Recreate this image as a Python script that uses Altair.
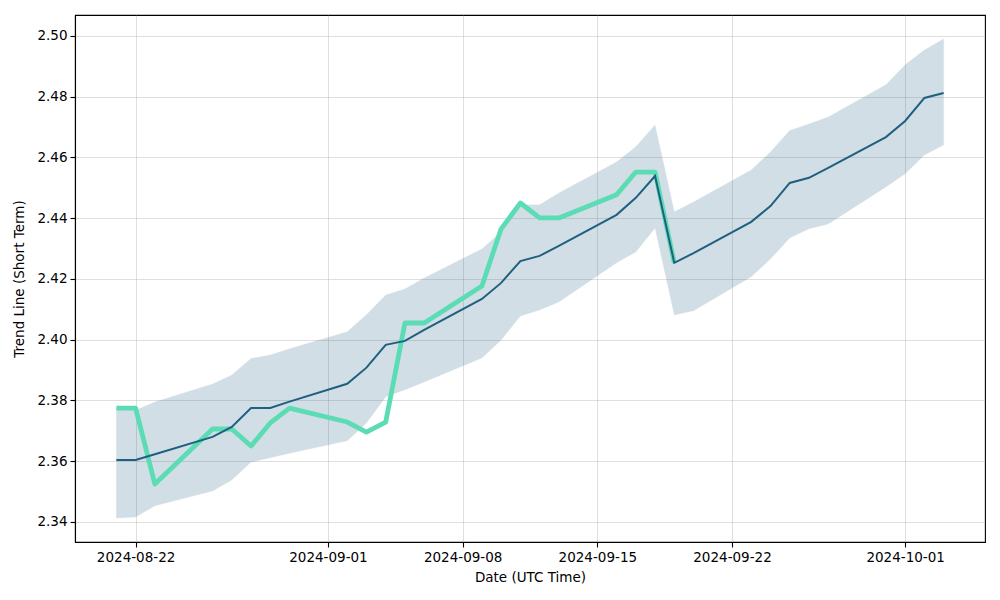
import altair as alt
import pandas as pd
from datetime import datetime, timezone

dates = ["2024-08-21", "2024-08-22", "2024-08-23", "2024-08-26", "2024-08-27", "2024-08-28",
         "2024-08-29", "2024-08-30", "2024-09-02", "2024-09-03", "2024-09-04", "2024-09-05",
         "2024-09-06", "2024-09-09", "2024-09-10", "2024-09-11", "2024-09-12", "2024-09-13",
         "2024-09-16", "2024-09-17", "2024-09-18", "2024-09-19", "2024-09-20", "2024-09-23",
         "2024-09-24", "2024-09-25", "2024-09-26", "2024-09-27", "2024-09-30", "2024-10-01",
         "2024-10-02", "2024-10-03"]

trend = [2.3604, 2.3604, 2.3623, 2.3680, 2.3713, 2.3775, 2.3775, 2.3796, 2.3855, 2.3908,
         2.3983, 2.3996, 2.4032, 2.4134, 2.4187, 2.4259, 2.4276, 2.4309, 2.4411, 2.4467,
         2.4539, 2.4253, 2.4285, 2.4388, 2.4440, 2.4516, 2.4533, 2.4566, 2.4667, 2.4720,
         2.4796, 2.4812]

upper = [2.3775, 2.3768, 2.3795, 2.3854, 2.3884, 2.3938, 2.3950, 2.3970, 2.4026, 2.4082,
         2.4147, 2.4167, 2.4203, 2.4299, 2.4355, 2.4444, 2.4444, 2.4483, 2.4585, 2.4635,
         2.4707, 2.4421, 2.4453, 2.4559, 2.4618, 2.4689, 2.4710, 2.4733, 2.4839, 2.4905,
         2.4954, 2.4990]

lower = [2.3413, 2.3416, 2.3453, 2.3502, 2.3538, 2.3597, 2.3611, 2.3626, 2.3667, 2.3726,
         2.3812, 2.3835, 2.3861, 2.3940, 2.3999, 2.4078, 2.4098, 2.4124, 2.4253, 2.4289,
         2.4368, 2.4081, 2.4095, 2.4207, 2.4266, 2.4335, 2.4365, 2.4381, 2.4503, 2.4546,
         2.4608, 2.4641]

price = [2.3775, 2.3775, 2.3525, 2.3706, 2.3706, 2.3650, 2.3726, 2.3775, 2.3729, 2.3696,
         2.3729, 2.4055, 2.4055, 2.4177, 2.4365, 2.4450, 2.4401, 2.4401, 2.4477, 2.4552,
         2.4552, 2.4253]

x_ticks = ["2024-08-22", "2024-09-01", "2024-09-08", "2024-09-15", "2024-09-22", "2024-10-01"]
y_ticks = [2.34, 2.36, 2.38, 2.40, 2.42, 2.44, 2.46, 2.48, 2.50]


def ms(s):
    return int(datetime.fromisoformat(s).replace(tzinfo=timezone.utc).timestamp() * 1000)


df = pd.DataFrame({"date": dates, "trend": trend, "upper": upper, "lower": lower})
dfp = pd.DataFrame({"date": dates[:len(price)], "price": price})

x_domain = [ms("2024-08-18T20:24:00"), ms("2024-10-05T03:36:00")]
y_domain = [2.3334, 2.5069]

FONT = "DejaVu Sans"

xenc = alt.X(
    "date:T",
    scale=alt.Scale(type="utc", domain=x_domain, nice=False),
    axis=alt.Axis(
        values=[ms(t) for t in x_ticks],
        labelExpr="utcFormat(datum.value, '%Y-%m-%d')",
        title="Date (UTC Time)",
    ),
)
yscale = alt.Scale(domain=y_domain, nice=False, zero=False)
yaxis = alt.Axis(values=y_ticks, format=".2f", title="Trend Line (Short Term)")

band = alt.Chart(df).mark_area(
    color="#23607f", opacity=0.2, stroke="#23607f", strokeOpacity=0.25, strokeWidth=1
).encode(
    x=xenc,
    y=alt.Y("lower:Q", scale=yscale, axis=yaxis),
    y2="upper:Q",
)

green = alt.Chart(dfp).mark_line(color="#5cdcb4", strokeWidth=4.8, strokeJoin="round").encode(
    x=xenc,
    y=alt.Y("price:Q", scale=yscale, axis=yaxis),
)

blue = alt.Chart(df).mark_line(color="#1f5f80", strokeWidth=2).encode(
    x=xenc,
    y=alt.Y("trend:Q", scale=yscale, axis=yaxis),
)

chart = alt.layer(band, green, blue).properties(
    width=910,
    height=527,
    autosize=alt.AutoSizeParams(type="none"),
    padding={"left": 67, "top": 7, "right": 7, "bottom": 50},
).configure_view(
    stroke="black", strokeWidth=1.1
).configure_axis(
    domainColor="black",
    domainWidth=1.1,
    tickColor="black",
    tickSize=5,
    tickWidth=1.1,
    labelFont=FONT,
    labelFontSize=13.5,
    labelColor="black",
    labelPadding=3,
    titleFont=FONT,
    titleFontSize=13.5,
    titleFontWeight="normal",
    titleColor="black",
    grid=True,
    gridColor="#b0b0b0",
    gridOpacity=0.4,
    gridWidth=1,
).configure_axisX(
    titlePadding=7,
).configure_axisY(
    titlePadding=10,
)

chart.save("out.html", embed_options={"renderer": "svg", "actions": False})
